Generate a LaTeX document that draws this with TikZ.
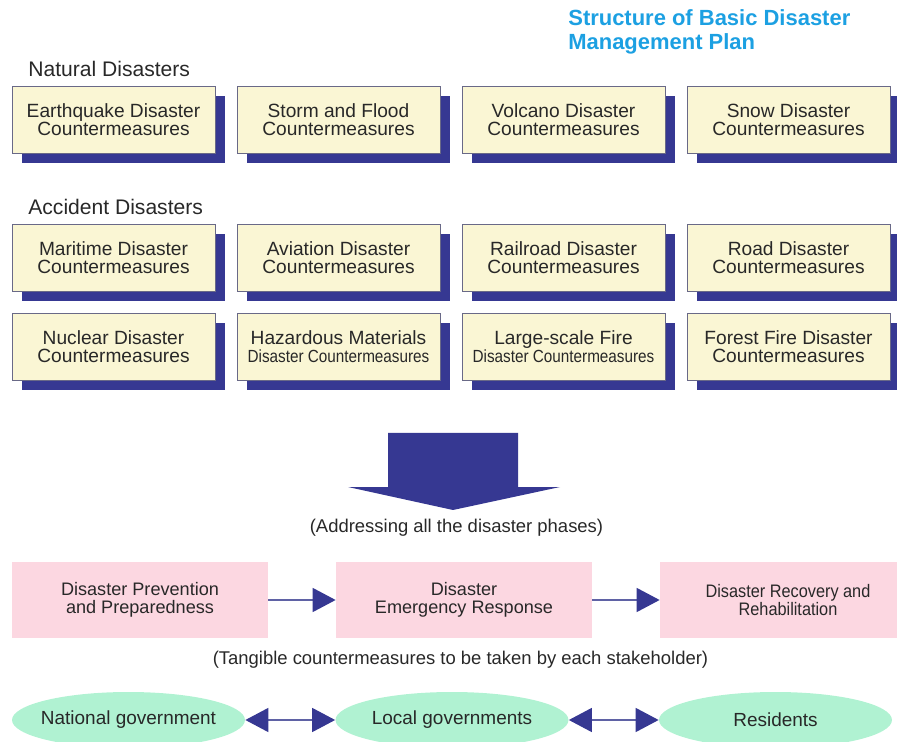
\documentclass[tikz,border=0pt]{standalone}
\usepackage{fontspec}
\setmainfont{Liberation Sans}
\usepackage{graphicx}
\usetikzlibrary{arrows.meta,positioning,shadows,shapes.geometric}

\definecolor{boxfill}{RGB}{250,246,212}
\definecolor{boxline}{RGB}{105,105,135}
\definecolor{shadowblue}{RGB}{54,56,146}
\definecolor{lineblue}{RGB}{95,98,165}
\definecolor{phasepink}{RGB}{252,215,225}
\definecolor{actorgreen}{RGB}{176,242,210}
\definecolor{titleblue}{RGB}{28,160,226}
\definecolor{textgray}{RGB}{40,40,40}

\newcommand{\squeeze}[2]{\scalebox{#1}[1]{#2}}

\tikzset{
  measure/.style={rectangle,draw=boxline,line width=0.5pt,fill=boxfill,
    minimum width=4.06cm,minimum height=1.34cm,inner sep=1pt,align=center,
    text=textgray,font=\fontsize{10.9}{10.2}\selectfont,
    drop shadow={shadow xshift=0.2cm,shadow yshift=-0.2cm,fill=shadowblue,opacity=1}},
  phase/.style={rectangle,fill=phasepink,minimum width=5.12cm,minimum height=1.52cm,
    align=center,text=textgray,font=\fontsize{10.3}{10.2}\selectfont},
  actor/.style={ellipse,fill=actorgreen,minimum width=4.66cm,minimum height=1.12cm,
    inner xsep=-1.6cm,inner ysep=0pt,text=textgray,font=\fontsize{10.8}{12}\selectfont},
  group/.style={anchor=west,inner sep=0pt,text=textgray,font=\fontsize{12}{14}\selectfont},
  note/.style={inner sep=0pt,text=textgray,font=\fontsize{10.5}{12}\selectfont},
  flow/.style={draw=lineblue,line width=0.8pt}
}

\begin{document}
\begin{tikzpicture}[>={Triangle[length=4.6mm,width=4.8mm,color=shadowblue]},
                    node distance=4.5cm]
  \useasboundingbox (0,0) rectangle (17.94,-14.84);

  % title
  \node[anchor=west,align=left,inner sep=0pt,text=titleblue,
        font=\bfseries\fontsize{12.5}{13.6}\selectfont] (title) at (11.36,-0.64)
        {Structure of Basic Disaster\\Management Plan};

  % natural disasters
  \node[group] (natural) at (0.56,-1.38) {Natural Disasters};
  \node[measure] (eq) at (2.27,-2.39) {Earthquake Disaster\\Countermeasures};
  \node[measure] (flood)   [right of=eq]      {Storm and Flood\\Countermeasures};
  \node[measure] (volcano) [right of=flood]   {Volcano Disaster\\Countermeasures};
  \node[measure] (snow)    [right of=volcano] {Snow Disaster\\Countermeasures};

  % accident disasters
  \node[group] (accident) at (0.56,-4.14) {Accident Disasters};
  \node[measure] (sea) at (2.27,-5.15) {Maritime Disaster\\Countermeasures};
  \node[measure] (air)  [right of=sea]  {Aviation Disaster\\Countermeasures};
  \node[measure] (rail) [right of=air]  {Railroad Disaster\\Countermeasures};
  \node[measure] (road) [right of=rail] {Road Disaster\\Countermeasures};

  \node[measure] (nuclear) [below of=sea,node distance=1.79cm] {Nuclear Disaster\\Countermeasures};
  \node[measure] (hazmat)  [right of=nuclear] {Hazardous Materials\\{\fontsize{10}{10.2}\selectfont\squeeze{0.87}{Disaster Countermeasures}}};
  \node[measure] (fire)    [right of=hazmat]  {Large-scale Fire\\{\fontsize{10}{10.2}\selectfont\squeeze{0.87}{Disaster Countermeasures}}};
  \node[measure] (forest)  [right of=fire]    {Forest Fire Disaster\\Countermeasures};

  % big arrow
  \fill[shadowblue] (7.76,-8.66) -- (10.36,-8.66) -- (10.36,-9.74) -- (11.2,-9.74)
        -- (9.06,-10.2) -- (6.96,-9.74) -- (7.76,-9.74) -- cycle;
  \node[note] (phases) at (9.13,-10.56) {(Addressing all the disaster phases)};

  % phases
  \node[phase] (prev) at (2.8,-12.0) {Disaster Prevention\\and Preparedness};
  \node[phase] (resp)  [right of=prev,node distance=6.48cm] {Disaster\\Emergency Response};
  \node[phase] (recov) [right of=resp,node distance=6.48cm]
        {\squeeze{0.9}{Disaster Recovery and}\\\squeeze{0.9}{Rehabilitation}};

  \path[flow,->] (prev) edge (resp)
                 (resp) edge (recov);

  \node[note] (tangible) at (9.21,-13.2)
        {(Tangible countermeasures to be taken by each stakeholder)};

  % stakeholders
  \node[actor] (nat) at (2.57,-14.4) {National government};
  \node[actor] (loc) [right of=nat,node distance=6.47cm] {Local governments};
  \node[actor] (res) [right of=loc,node distance=6.47cm] {Residents};

  \path[flow,<->] (nat) edge (loc)
                  (loc) edge (res);
\end{tikzpicture}
\end{document}
